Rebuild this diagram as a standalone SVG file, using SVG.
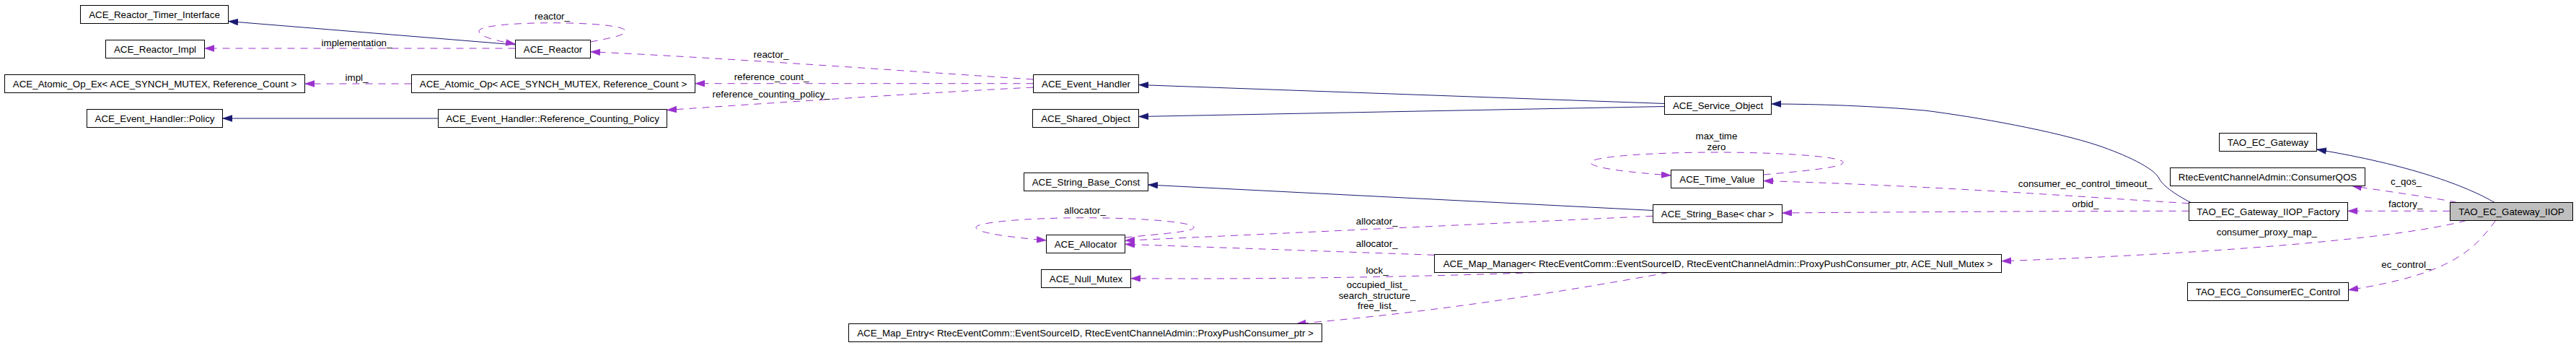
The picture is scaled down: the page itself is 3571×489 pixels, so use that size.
<svg xmlns="http://www.w3.org/2000/svg" width="3571" height="489" viewBox="0 0 3571 489">
<style>
.n rect{fill:#fff;stroke:#000;stroke-width:1}
.n.main rect{fill:#bfbfbf}
.n text,.lbl{font-family:"Liberation Sans",Arial,Helvetica,sans-serif;font-size:13.33px;fill:#000;text-anchor:middle}
.inh{fill:none;stroke:#191970;stroke-width:1;marker-end:url(#ab)}
.use{fill:none;stroke:#9a32cd;stroke-width:1;stroke-dasharray:10,8;marker-end:url(#ap)}
</style>
<defs>
<marker id="ab" markerUnits="userSpaceOnUse" markerWidth="15" markerHeight="11" refX="13.5" refY="4.5" orient="auto"><path d="M0,0 L13.5,4.5 L0,9 z" fill="#191970" stroke="#191970" stroke-width="0.5"/></marker>
<marker id="ap" markerUnits="userSpaceOnUse" markerWidth="15" markerHeight="11" refX="13.5" refY="4.5" orient="auto"><path d="M0,0 L13.5,4.5 L0,9 z" fill="#9a32cd" stroke="#9a32cd" stroke-width="0.5"/></marker>
</defs>
<rect x="0" y="0" width="3571" height="489" fill="#fff"/>
<g id="connectors">
<path class="inh" d="M714.5,62 L316.5,29.5"/>
<path class="inh" d="M607.5,164 L308.5,164"/>
<path class="inh" d="M2307.5,143.5 L1578.5,117.5"/>
<path class="inh" d="M2307.5,147.5 L1578.5,161.5"/>
<path class="inh" d="M3037,280.5 C3020,272 2998,258 2993,247 C2985,232 2945,214 2909,201.7 C2850,182 2740,162 2668,153 C2600,147 2520,144 2455.5,144"/>
<path class="inh" d="M3458,280.5 C3420,258 3340,228 3211.5,207"/>
<path class="inh" d="M2291.5,291.5 L1591.5,256"/>

<g><path class="use" d="M714.5,67 L283.5,67"/><text class="lbl" x="494.5" y="63.5">implementation_</text></g>
<g><path class="use" d="M818.5,58 C845,53 867,49 867,43 C867,36 820,31.7 765.5,31.7 C711,31.7 664,36 664,43 C664,51 690,57 714.5,61"/><text class="lbl" x="765.5" y="27">reactor_</text></g>
<g><path class="use" d="M570.5,116 L422.5,116"/><text class="lbl" x="494.5" y="111.5">impl_</text></g>
<g><path class="use" d="M1432.5,110 C1250,98 1000,80 818.5,71.7"/><text class="lbl" x="1069" y="80">reactor_</text></g>
<g><path class="use" d="M1432.5,115.7 L963.5,115.7"/><text class="lbl" x="1069.5" y="111">reference_count_</text></g>
<g><path class="use" d="M1432.5,121 C1330,126 1150,137 924.5,152.5"/><text class="lbl" x="1069" y="135">reference_counting_policy_</text></g>
<g><path class="use" d="M2444.5,242 C2500,237 2555,232 2555,225 C2555,217 2470,211 2380,211 C2290,211 2205,217 2205,225 C2205,233 2262,239 2316.5,243"/><text class="lbl" x="2379.5" y="193">max_time</text><text class="lbl" x="2379.5" y="208">zero</text></g>
<g><path class="use" d="M2291.5,299.3 L1559.5,333.3"/><text class="lbl" x="1908.7" y="311">allocator_</text></g>
<g><path class="use" d="M1988.5,353.3 L1559.5,338.3"/><text class="lbl" x="1908.7" y="342">allocator_</text></g>
<g><path class="use" d="M1559.5,329 C1610,324 1655,321 1655,315 C1655,308 1585,301.7 1504,301.7 C1423,301.7 1353,308 1353,315 C1353,323 1405,329 1450.5,333"/><text class="lbl" x="1504" y="296">allocator_</text></g>
<g><path class="use" d="M2129,377.5 C1950,384 1750,387 1567.5,385.7"/><text class="lbl" x="1909" y="379">lock_</text></g>
<g><path class="use" d="M2312.8,377.5 C2200,398 2000,432 1797,448.5"/><text class="lbl" x="1909" y="398.5">occupied_list_</text><text class="lbl" x="1909" y="413.5">search_structure_</text><text class="lbl" x="1909" y="427.5">free_list_</text></g>
<g><path class="use" d="M3034.5,281.7 C2900,274 2700,258 2444.5,250.5"/><text class="lbl" x="2890.8" y="259">consumer_ec_control_timeout_</text></g>
<g><path class="use" d="M3034.5,292.3 C2800,292.5 2600,294 2470.5,295"/><text class="lbl" x="2890.8" y="287">orbid_</text></g>
<g><path class="use" d="M3406,280.5 C3370,273 3300,264 3260.4,257.5"/><text class="lbl" x="3335.5" y="255.5">c_qos_</text></g>
<g><path class="use" d="M3396.5,292.3 L3254.5,292.3"/><text class="lbl" x="3334.7" y="287">factory_</text></g>
<g><path class="use" d="M3418.8,305.5 C3320,332 3050,352 2774.5,361.7"/><text class="lbl" x="3142.4" y="326">consumer_proxy_map_</text></g>
<g><path class="use" d="M3459.6,305.5 C3430,345 3400,380 3255.5,401.7"/><text class="lbl" x="3335.8" y="371">ec_control_</text></g>
</g>
<g id="nodes">
<g id="ACE_Reactor_Timer_Interface" class="n"><rect x="111.5" y="7.5" width="205" height="25"/><text x="214" y="24.5">ACE_Reactor_Timer_Interface</text></g>
<g id="ACE_Reactor_Impl" class="n"><rect x="146.5" y="55.5" width="137" height="25"/><text x="215" y="72.5">ACE_Reactor_Impl</text></g>
<g id="ACE_Atomic_Op_Ex" class="n"><rect x="6.5" y="103.5" width="416" height="25"/><text x="214.5" y="120.5">ACE_Atomic_Op_Ex&lt; ACE_SYNCH_MUTEX, Reference_Count &gt;</text></g>
<g id="ACE_Event_Handler_Policy" class="n"><rect x="120.5" y="151.5" width="188" height="25"/><text x="214.5" y="168.5">ACE_Event_Handler::Policy</text></g>
<g id="ACE_Reactor" class="n"><rect x="714.5" y="55.5" width="104" height="25"/><text x="766.5" y="72.5">ACE_Reactor</text></g>
<g id="ACE_Atomic_Op" class="n"><rect x="570.5" y="103.5" width="393" height="25"/><text x="767" y="120.5">ACE_Atomic_Op&lt; ACE_SYNCH_MUTEX, Reference_Count &gt;</text></g>
<g id="ACE_Event_Handler_Reference_Counting_Policy" class="n"><rect x="607.5" y="151.5" width="317" height="25"/><text x="766" y="168.5">ACE_Event_Handler::Reference_Counting_Policy</text></g>
<g id="ACE_Event_Handler" class="n"><rect x="1432.5" y="103.5" width="146" height="25"/><text x="1505.5" y="120.5">ACE_Event_Handler</text></g>
<g id="ACE_Shared_Object" class="n"><rect x="1431.5" y="151.5" width="147" height="25"/><text x="1505" y="168.5">ACE_Shared_Object</text></g>
<g id="ACE_String_Base_Const" class="n"><rect x="1419.5" y="239.5" width="172" height="25"/><text x="1505.5" y="256.5">ACE_String_Base_Const</text></g>
<g id="ACE_Allocator" class="n"><rect x="1450.5" y="325.5" width="109" height="25"/><text x="1505" y="342.5">ACE_Allocator</text></g>
<g id="ACE_Null_Mutex" class="n"><rect x="1443.5" y="373.5" width="124" height="25"/><text x="1505.5" y="390.5">ACE_Null_Mutex</text></g>
<g id="ACE_Map_Entry" class="n"><rect x="1176.5" y="448.5" width="656" height="25"/><text x="1504.5" y="465.5">ACE_Map_Entry&lt; RtecEventComm::EventSourceID, RtecEventChannelAdmin::ProxyPushConsumer_ptr &gt;</text></g>
<g id="ACE_Service_Object" class="n"><rect x="2307.5" y="133.5" width="148" height="25"/><text x="2381.5" y="150.5">ACE_Service_Object</text></g>
<g id="ACE_Time_Value" class="n"><rect x="2316.5" y="235.5" width="128" height="25"/><text x="2380.5" y="252.5">ACE_Time_Value</text></g>
<g id="ACE_String_Base_char" class="n"><rect x="2291.5" y="283.5" width="179" height="25"/><text x="2381" y="300.5">ACE_String_Base&lt; char &gt;</text></g>
<g id="ACE_Map_Manager" class="n"><rect x="1988.5" y="352.5" width="786" height="25"/><text x="2381.5" y="369.5">ACE_Map_Manager&lt; RtecEventComm::EventSourceID, RtecEventChannelAdmin::ProxyPushConsumer_ptr, ACE_Null_Mutex &gt;</text></g>
<g id="TAO_EC_Gateway" class="n"><rect x="3076.5" y="184.5" width="135" height="25"/><text x="3144" y="201.5">TAO_EC_Gateway</text></g>
<g id="RtecEventChannelAdmin_ConsumerQOS" class="n"><rect x="3008.5" y="232.5" width="270" height="25"/><text x="3143.5" y="249.5">RtecEventChannelAdmin::ConsumerQOS</text></g>
<g id="TAO_EC_Gateway_IIOP_Factory" class="n"><rect x="3034.5" y="280.5" width="220" height="25"/><text x="3144.5" y="297.5">TAO_EC_Gateway_IIOP_Factory</text></g>
<g id="TAO_EC_Gateway_IIOP" class="n main"><rect x="3396.5" y="280.5" width="170" height="25"/><text x="3481.5" y="297.5">TAO_EC_Gateway_IIOP</text></g>
<g id="TAO_ECG_ConsumerEC_Control" class="n"><rect x="3032.5" y="391.5" width="223" height="25"/><text x="3144" y="408.5">TAO_ECG_ConsumerEC_Control</text></g>
</g>
</svg>
